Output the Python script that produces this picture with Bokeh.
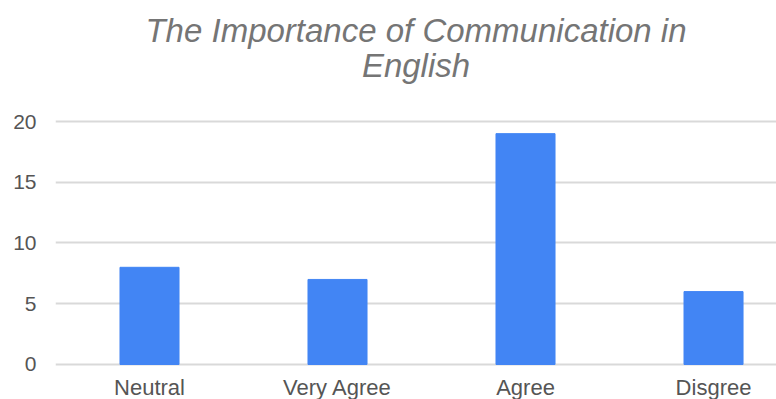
from bokeh.plotting import figure
from bokeh.models import Range1d, FixedTicker, ColumnDataSource
from bokeh.core.properties import value
from bokeh.embed import file_html
from bokeh.resources import INLINE

categories = ["Neutral", "Very Agree", "Agree", "Disgree"]
counts = [8, 7, 19, 6]
y_ticks = [0, 5, 10, 15, 20]
title_lines = ["The Importance of Communication in", "English"]

positions = [i + 0.5 for i in range(len(categories))]
src = ColumnDataSource(dict(x=positions, top=counts, cat=categories))

# scale: 12.15 px per unit, y=0 at 364px, frame spans the whole canvas height
X_END = 3.835
p = figure(width=776, height=399, output_backend="svg", toolbar_location=None,
           x_range=Range1d(0, X_END), y_range=Range1d(-2.881, 29.959),
           min_border_left=55, min_border_right=0, min_border_top=0,
           min_border_bottom=0, outline_line_color=None)
p.title = None
p.xaxis.visible = False

p.vbar(x="x", top="top", width=0.314, bottom=0, source=src, color="#4285F4")

# category labels under the bars
p.text(x="x", y=0, text="cat", source=src, y_offset=23,
       text_align="center", text_baseline="middle",
       text_font=value("Liberation Sans"), text_font_size="22px",
       text_color="#555555")

# two-line title
tsrc = ColumnDataSource(dict(x=[X_END / 2, X_END / 2], y=[max(y_ticks)] * 2,
                             t=title_lines, off=[-91, -56]))
p.text(x="x", y="y", text="t", y_offset="off", source=tsrc,
       text_align="center", text_baseline="middle",
       text_font=value("Liberation Sans"), text_font_style="italic",
       text_font_size="33px", text_color="#757575")

p.yaxis.ticker = FixedTicker(ticks=y_ticks)
p.yaxis.axis_line_color = None
p.yaxis.major_tick_line_color = None
p.yaxis.minor_tick_line_color = None
p.yaxis.major_tick_out = 0
p.yaxis.major_tick_in = 0
p.yaxis.minor_tick_out = 0
p.yaxis.minor_tick_in = 0
p.yaxis.major_label_text_font = "Liberation Sans"
p.yaxis.major_label_text_font_size = "21px"
p.yaxis.major_label_text_color = "#555555"
p.yaxis.major_label_standoff = 19

p.xgrid.grid_line_color = None
p.ygrid.ticker = FixedTicker(ticks=y_ticks)
p.ygrid.grid_line_color = "#d9d9d9"
p.ygrid.grid_line_width = 2

open("out.html", "w").write(file_html(p, INLINE))
